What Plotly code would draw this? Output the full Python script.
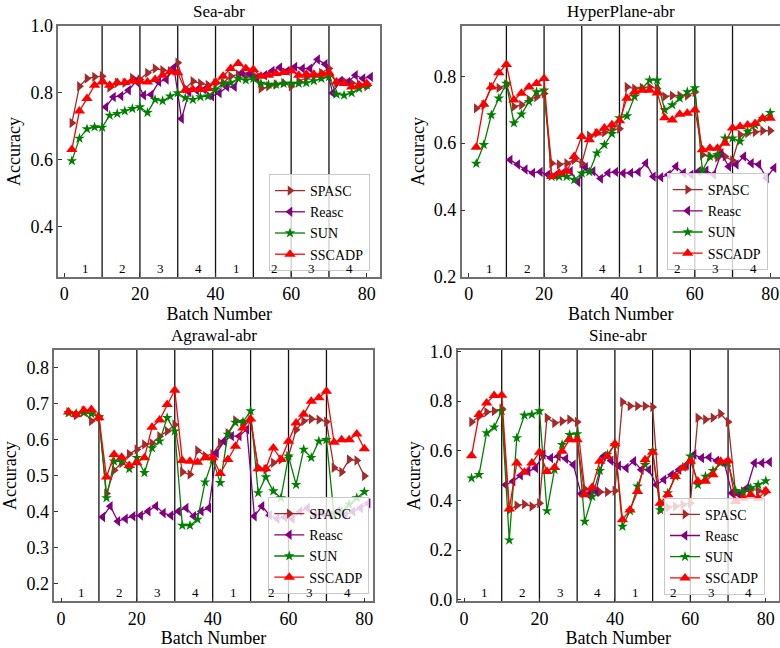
import plotly.graph_objects as go

# ---------------- data ----------------
x_even = list(range(2, 81, 2))      # SPASC, SUN, SSCADP
x_odd = list(range(11, 82, 2))      # Reasc

sea_spasc = [0.71,0.82,0.843,0.848,0.85, 0.816,0.83,0.83,0.845,0.84, 0.86,0.873,0.868,0.865,0.89,
             0.813,0.835,0.828,0.824,0.828, 0.83,0.85,0.855,0.85,0.853, 0.813,0.82,0.825,0.83,0.82,
             0.835,0.845,0.85,0.86,0.873, 0.83,0.835,0.83,0.825,0.82]
sea_reasc = [0.758,0.788,0.791,0.808,0.835, 0.793,0.795,0.833,0.84,0.876, 0.723,0.803,0.808,0.81,0.79,
             0.8,0.818,0.818,0.86,0.858, 0.845,0.853,0.866,0.876,0.866, 0.878,0.873,0.873,0.9,0.886,
             0.8,0.836,0.833,0.853,0.843,0.848]
sea_sun = [0.597,0.664,0.692,0.698,0.697, 0.733,0.738,0.746,0.753,0.758, 0.741,0.78,0.776,0.79,0.8,
           0.785,0.78,0.788,0.79,0.81, 0.828,0.83,0.843,0.838,0.843, 0.828,0.825,0.825,0.828,0.828,
           0.828,0.83,0.836,0.843,0.848, 0.796,0.793,0.8,0.813,0.823]
sea_sscadp = [0.631,0.746,0.783,0.823,0.833, 0.823,0.831,0.831,0.835,0.835, 0.833,0.84,0.853,0.863,0.86,
              0.808,0.81,0.81,0.813,0.833, 0.85,0.873,0.888,0.873,0.87, 0.85,0.853,0.858,0.861,0.866,
              0.853,0.856,0.856,0.856,0.86, 0.833,0.828,0.818,0.823,0.828]

hp_spasc = [0.704,0.714,0.768,0.765,0.775, 0.709,0.714,0.73,0.738,0.748, 0.54,0.536,0.54,0.55,0.54,
            0.622,0.63,0.632,0.64,0.643, 0.768,0.763,0.765,0.768,0.763, 0.739,0.742,0.742,0.742,0.753,
            0.565,0.56,0.558,0.56,0.548, 0.625,0.63,0.633,0.637,0.637]
hp_reasc = [0.55,0.536,0.521,0.511,0.514, 0.506,0.504,0.511,0.516,0.484, 0.528,0.516,0.494,0.511,0.514,
            0.51,0.511,0.514,0.54,0.5, 0.498,0.506,0.53,0.511,0.506, 0.516,0.518,0.506,0.57,0.53,
            0.536,0.56,0.54,0.536,0.496,0.526]
hp_sun = [0.539,0.595,0.684,0.734,0.778, 0.66,0.686,0.724,0.753,0.758, 0.5,0.5,0.5,0.49,0.51,
          0.514,0.57,0.595,0.628,0.675, 0.681,0.739,0.763,0.788,0.788, 0.699,0.714,0.734,0.753,0.765,
          0.518,0.56,0.565,0.615,0.615, 0.605,0.635,0.654,0.674,0.691]
hp_sscadp = [0.588,0.716,0.768,0.81,0.835, 0.729,0.749,0.768,0.778,0.793, 0.5,0.511,0.516,0.56,0.62,
             0.61,0.63,0.645,0.655,0.667, 0.734,0.753,0.758,0.758,0.75, 0.676,0.669,0.686,0.689,0.699,
             0.58,0.585,0.585,0.6,0.645, 0.65,0.654,0.659,0.674,0.674]

ag_spasc = [0.677,0.668,0.68,0.652,0.664, 0.45,0.515,0.535,0.56,0.573, 0.587,0.59,0.61,0.624,0.642,
            0.51,0.503,0.57,0.555,0.56, 0.591,0.618,0.654,0.645,0.655, 0.522,0.517,0.536,0.545,0.554,
            0.628,0.652,0.658,0.656,0.65, 0.522,0.51,0.545,0.542,0.499]
ag_reasc = [0.385,0.415,0.373,0.38,0.387, 0.389,0.401,0.415,0.396,0.389, 0.401,0.41,0.387,0.401,0.41,
            0.563,0.596,0.61,0.61,0.629, 0.387,0.415,0.39,0.38,0.385, 0.38,0.4,0.41,0.39,0.395,
            0.39,0.4,0.39,0.4,0.41,0.423]
ag_sun = [0.675,0.673,0.675,0.672,0.664, 0.438,0.54,0.54,0.519,0.55, 0.508,0.577,0.596,0.661,0.624,
          0.361,0.361,0.378,0.482,0.545, 0.48,0.615,0.648,0.65,0.68, 0.452,0.496,0.457,0.438,0.554,
          0.475,0.573,0.55,0.596,0.6, 0.39,0.4,0.42,0.438,0.455]
ag_sscadp = [0.677,0.67,0.682,0.684,0.661, 0.496,0.559,0.551,0.528,0.536, 0.55,0.635,0.655,0.698,0.738,
             0.542,0.54,0.537,0.55,0.55, 0.506,0.545,0.582,0.633,0.658, 0.519,0.519,0.577,0.545,0.596,
             0.647,0.671,0.707,0.717,0.735, 0.593,0.6,0.6,0.616,0.575]

si_spasc = [0.716,0.739,0.756,0.76,0.77, 0.362,0.38,0.385,0.376,0.389, 0.733,0.712,0.719,0.726,0.716,
            0.446,0.439,0.434,0.434,0.439, 0.797,0.78,0.78,0.78,0.776, 0.362,0.372,0.376,0.383,0.39,
            0.733,0.726,0.733,0.749,0.716, 0.432,0.436,0.446,0.439,0.434]
si_reasc = [0.463,0.477,0.501,0.517,0.531, 0.585,0.571,0.578,0.568,0.544, 0.427,0.423,0.436,0.578,0.56,
            0.54,0.531,0.558,0.524,0.524, 0.463,0.484,0.504,0.524,0.544, 0.585,0.571,0.574,0.56,0.551,
            0.43,0.423,0.45,0.551,0.551,0.555]
si_sun = [0.49,0.504,0.672,0.695,0.76, 0.24,0.652,0.743,0.746,0.76, 0.358,0.524,0.625,0.665,0.668,
          0.315,0.416,0.52,0.585,0.625, 0.295,0.358,0.457,0.544,0.6, 0.362,0.43,0.497,0.533,0.578,
          0.463,0.497,0.52,0.551,0.551, 0.439,0.434,0.45,0.463,0.479]
si_sscadp = [0.58,0.746,0.793,0.823,0.824, 0.366,0.551,0.514,0.551,0.594, 0.517,0.533,0.598,0.645,0.645,
             0.423,0.453,0.558,0.578,0.628, 0.322,0.362,0.436,0.564,0.594, 0.389,0.423,0.497,0.531,0.558,
             0.477,0.477,0.504,0.558,0.56, 0.396,0.409,0.423,0.409,0.439]

titles = ["Sea-abr", "HyperPlane-abr", "Agrawal-abr", "Sine-abr"]
series_names = ["SPASC", "Reasc", "SUN", "SSCADP"]
concept_labels = ["1", "2", "3", "4", "1", "2", "3", "4"]
drift_points = [10, 20, 30, 40, 50, 60, 70]
x_ticks = [0, 20, 40, 60, 80]

panels = [
    (sea_spasc, sea_reasc, sea_sun, sea_sscadp),
    (hp_spasc, hp_reasc, hp_sun, hp_sscadp),
    (ag_spasc, ag_reasc, ag_sun, ag_sscadp),
    (si_spasc, si_reasc, si_sun, si_sscadp),
]

# ---------------- styling / layout ----------------
W, H = 780, 648
FONT = "Liberation Serif, Times New Roman, serif"
colors = ["#a52a2a", "#800080", "#008000", "#ff0000"]
symbols = ["triangle-right", "triangle-left", "star", "triangle-up"]
msizes = [9, 9, 8, 10]

# plot boxes in pixels: (left, right, top, bottom)
boxes = [(58.3, 380.0, 26.0, 277.0),
         (461.7, 780.0, 26.0, 277.0),
         (54.3, 372.7, 350.0, 601.3),
         (457.7, 779.0, 350.0, 601.3)]
xranges = [[-1.59, 83.5], [-1.86, 82.6], [-1.77, 82.2], [-1.67, 83.5]]
yranges = [[0.25, 1.0], [0.2, 0.95], [0.15, 0.85], [-0.006, 1.006]]
ytickvals = [[0.4, 0.6, 0.8, 1.0], [0.2, 0.4, 0.6, 0.8],
             [0.2, 0.3, 0.4, 0.5, 0.6, 0.7, 0.8], [0.0, 0.2, 0.4, 0.6, 0.8, 1.0]]
# legend anchors (pixels): (x, xanchor, bottom y)
legpos = [(370, "right", 271), (666.7, "left", 270), (369.3, "right", 594), (664, "left", 594.7)]

fig = go.Figure()

for p, data in enumerate(panels):
    ax = "" if p == 0 else str(p + 1)
    leg = "legend" if p == 0 else "legend%d" % (p + 1)
    for s in range(4):
        xs = x_odd if s == 1 else x_even
        fig.add_trace(go.Scatter(
            x=xs, y=data[s], mode="lines+markers", name=series_names[s],
            line=dict(color=colors[s], width=1.3),
            marker=dict(symbol=symbols[s], size=msizes[s], color=colors[s],
                        line=dict(width=0)),
            xaxis="x" + ax, yaxis="y" + ax, legend=leg, showlegend=True))

    l, r, t, b = boxes[p]
    axis_common = dict(showline=True, linecolor="#707070", linewidth=1.5, mirror=True,
                       ticks="inside", ticklen=4, tickcolor="#333", showgrid=False,
                       zeroline=False, ticklabeloverflow="allow", automargin=False,
                       tickfont=dict(family=FONT, size=18, color="black"))
    fig.layout["xaxis" + ax] = dict(
        domain=[l / W, r / W], range=xranges[p], tickvals=x_ticks,
        anchor="y" + ax,
        title=dict(text="Batch Number", font=dict(family=FONT, size=18, color="black"),
                   standoff=3),
        **axis_common)
    fig.layout["yaxis" + ax] = dict(
        domain=[1 - b / H, 1 - t / H], range=yranges[p], tickvals=ytickvals[p],
        tickformat=".1f", anchor="x" + ax,
        title=dict(text="Accuracy", font=dict(family=FONT, size=18, color="black"),
                   standoff=5),
        **axis_common)

    for d in drift_points:
        fig.add_shape(type="line", xref="x" + ax, yref="y" + ax + " domain",
                      x0=d, x1=d, y0=0, y1=1, line=dict(color="#111", width=1.3),
                      layer="below")
    for k, lab in enumerate(concept_labels):
        fig.add_annotation(x=5.5 + 10 * k, y=0.035, xref="x" + ax, yref="y" + ax + " domain",
                           text=lab, showarrow=False, yanchor="middle",
                           font=dict(family=FONT, size=13, color="black"))
    fig.add_annotation(x=0.5, y=1, xref="x" + ax + " domain", yref="y" + ax + " domain",
                       text=titles[p], showarrow=False, yanchor="bottom", yshift=3,
                       font=dict(family=FONT, size=17, color="black"))

    lx, lanchor, lb = legpos[p]
    fig.layout[leg] = dict(x=lx / W, xanchor=lanchor, y=1 - lb / H, yanchor="bottom",
                           bgcolor="rgba(255,255,255,0.8)", bordercolor="#c8c8c8",
                           borderwidth=1, font=dict(family=FONT, size=14, color="black"),
                           tracegroupgap=0)

fig.update_layout(width=W, height=H, margin=dict(l=0, r=0, t=0, b=0, autoexpand=False),
                  paper_bgcolor="white", plot_bgcolor="white",
                  font=dict(family=FONT, color="black"))

fig.write_html("out.html", config={"displayModeBar": False},
               post_script="document.body.style.margin='0';document.body.style.overflow='hidden';")
